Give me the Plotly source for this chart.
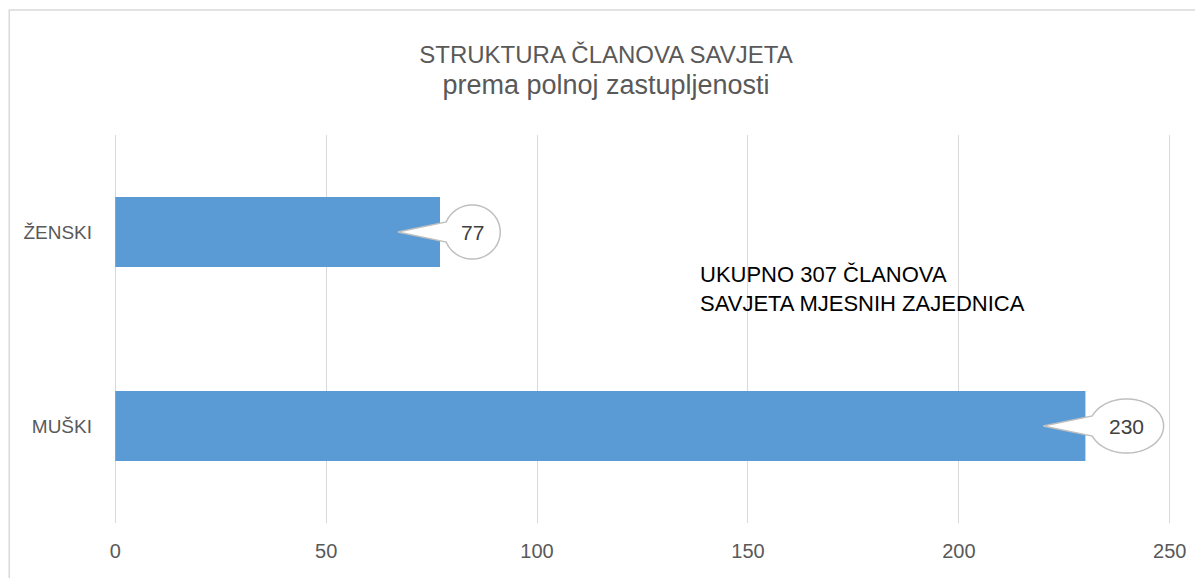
import numpy as np
import plotly.graph_objects as go

categories = ["ŽENSKI", "MUŠKI"]
values = [77, 230]
x_ticks = [0, 50, 100, 150, 200, 250]
title_line1 = "STRUKTURA ČLANOVA SAVJETA"
title_line2 = "prema polnoj zastupljenosti"
note_text = "UKUPNO 307 ČLANOVA<br>SAVJETA MJESNIH ZAJEDNICA"

# positions: first category on top
y_pos = [len(categories) - 1 - i for i in range(len(categories))]

OFF = 8  # page body margin
W, H = 1203 - OFF, 578 - OFF
XR = [-1, 251]
YR = [-0.5, len(categories) - 0.5]
px_x = 1055 / 250.0
ML = 115 - OFF - (0 - XR[0]) * px_x
PW = (XR[1] - XR[0]) * px_x
MR = W - ML - PW
MT = 135 - OFF
PH = 388
MB = H - MT - PH
px_y = PH / (YR[1] - YR[0])


def fx(px):
    return (px - OFF - ML) / PW


def fy(py):
    return (PH - (py - OFF - MT)) / PH


fig = go.Figure()
fig.add_trace(go.Bar(
    x=values, y=y_pos, orientation="h", width=0.36,
    marker=dict(color="#5B9BD5", line=dict(width=0)),
    hoverinfo="skip", showlegend=False,
))

shapes = []
annotations = []
for v, yc in zip(values, y_pos):
    nd = len(str(v))
    rx_px = 10 + 9 * nd
    ry_px = 27
    rx = rx_px / px_x
    ry = ry_px / px_y
    cx = v + 1 + rx
    tip_x = v - 10
    d = np.deg2rad(22)
    th = np.linspace(np.pi + d, 3 * np.pi - d, 80)
    xs = cx + rx * np.cos(th)
    ys = yc + ry * np.sin(th)
    path = "M {:.4f},{:.5f} ".format(tip_x, yc)
    path += " ".join("L {:.4f},{:.5f}".format(a, b) for a, b in zip(xs, ys))
    path += " Z"
    shapes.append(dict(type="path", path=path, xref="x", yref="y",
                       fillcolor="white", line=dict(color="#BFBFBF", width=1.5),
                       layer="above"))
    annotations.append(dict(x=cx, y=yc, xref="x", yref="y", text=str(v),
                            showarrow=False,
                            font=dict(family="Liberation Sans, Arial", size=21, color="#404040")))

# chart border
shapes.append(dict(type="rect", xref="paper", yref="paper",
                   x0=fx(9), x1=fx(1215), y0=fy(600), y1=fy(10),
                   line=dict(color="#D9D9D9", width=1.5), fillcolor="rgba(0,0,0,0)",
                   layer="below"))

annotations.append(dict(x=fx(698), y=fy(289), xref="paper", yref="paper",
                        xanchor="left", yanchor="middle", align="left", showarrow=False,
                        text=note_text,
                        font=dict(family="Liberation Sans, Arial", size=22, color="#000000")))

fig.update_layout(
    width=W, height=H,
    margin=dict(l=ML, r=MR, t=MT, b=MB),
    paper_bgcolor="white", plot_bgcolor="white",
    title=dict(text=title_line1 + "<br><span style='font-size:27px'>" + title_line2 + "</span>",
               x=(606 - OFF) / W, xanchor="center", y=1 - (63 - OFF) / H, yanchor="middle",
               yref="container",
               font=dict(family="Liberation Sans, Arial", size=24, color="#595959")),
    shapes=shapes, annotations=annotations,
    bargap=0.64,
)
fig.update_xaxes(range=XR, tickvals=x_ticks, showgrid=True, gridcolor="#D9D9D9",
                 gridwidth=1, zeroline=False, showline=False, ticks="",
                 tickfont=dict(family="Liberation Sans, Arial", size=20, color="#595959"),
                 ticklabelstandoff=14, fixedrange=True)
fig.update_yaxes(range=YR, tickvals=y_pos, ticktext=categories, showgrid=False,
                 zeroline=False, showline=False, ticks="",
                 tickfont=dict(family="Liberation Sans, Arial", size=19, color="#595959"),
                 ticklabelstandoff=18, fixedrange=True)

fig.write_html("out.html")
